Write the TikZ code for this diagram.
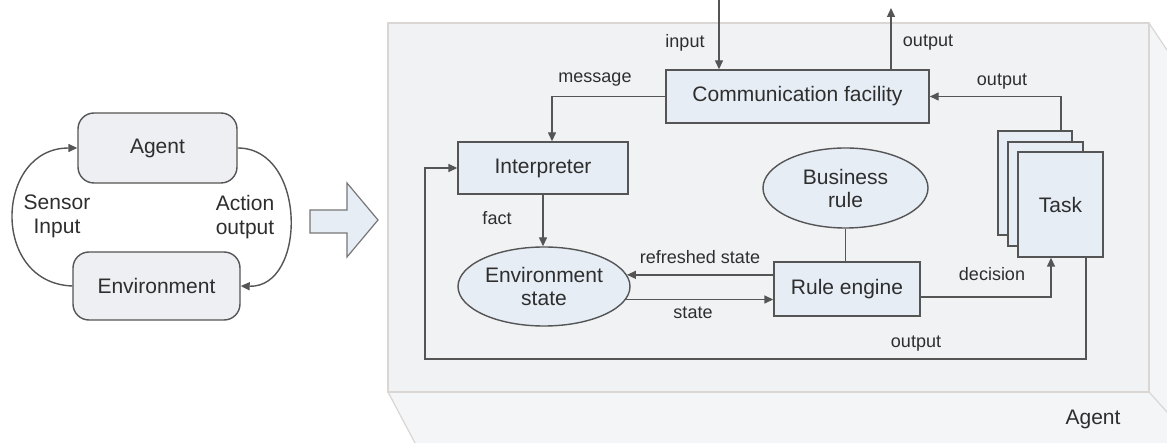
\documentclass[tikz,border=0pt]{standalone}
\usepackage{fontspec}
\setmainfont{Liberation Sans}
\usetikzlibrary{arrows.meta,shapes.geometric}

\definecolor{ink}{HTML}{2E2E2E}
\definecolor{wire}{HTML}{555555}
\definecolor{boxfill}{HTML}{E6EDF5}
\definecolor{roundfill}{HTML}{EDEFF2}
\definecolor{panelfill}{HTML}{F1F2F4}
\definecolor{panelside}{HTML}{F4F5F7}
\definecolor{paneledge}{HTML}{D9D6D3}

\tikzset{
  wirestyle/.style={draw=wire, line width=1.4pt},
  flow/.style={wirestyle, -{Triangle[length=9pt,width=8pt]}},
  plainbox/.style={draw=wire, line width=1.4pt, fill=boxfill, inner sep=0pt,
    text=ink, font=\fontsize{21}{24}\selectfont},
  roundbox/.style={plainbox, fill=roundfill, rounded corners=16pt},
  ovalbox/.style={plainbox, ellipse, align=center,
    font=\fontsize{21}{23}\selectfont},
  tag/.style={text=ink, font=\fontsize{18}{20}\selectfont, inner sep=0pt},
  bigtag/.style={text=ink, font=\fontsize{21}{24}\selectfont, inner sep=0pt, align=center},
}

\begin{document}
\begin{tikzpicture}[x=1pt, y=-1pt]
\useasboundingbox (0,0) rectangle (1167,443);
\fill[white] (0,0) rectangle (1167,443);

% ---------- simple agent/environment loop ----------
\node[roundbox, minimum width=159pt, minimum height=70pt] (agentL) at (157.5,148) {Agent};
\node[roundbox, minimum width=167pt, minimum height=68pt] (envL) at (156.5,286) {Environment};

\draw[flow] (envL.west) .. controls (-10,283) and (-5,148) .. (agentL.west);
\draw[flow] (agentL.east) .. controls (307,148) and (307,288) .. (envL.east);

\node[bigtag] (sensor) at (57,216) {Sensor\\Input};
\node[bigtag] (action) at (245,217) {Action\\output};

% hollow block arrow
\draw[draw=wire!80, line width=1.2pt, fill=boxfill, line join=miter]
  (310,210) -- (347,210) -- (347,183) -- (378,220) -- (347,257) -- (347,233) -- (310,233) -- cycle;

% ---------- agent panel (open box) ----------
\fill[panelside] (388,392) -- (1149,392) -- (1167,412) -- (1167,443) -- (415,443) -- cycle;
\fill[panelside] (1149,23) -- (1167,50) -- (1167,412) -- (1149,392) -- cycle;
\draw[paneledge, line width=1.2pt] (388,392) -- (415,443);
\draw[paneledge, line width=1.2pt] (1149,23) -- (1167,50);
\draw[paneledge, line width=1.2pt] (1149,392) -- (1167,412);
\draw[paneledge, line width=1.5pt, fill=panelfill] (388,23) rectangle (1149,392);
\node[bigtag] (panelname) at (1093,419) {Agent};

% ---------- components ----------
\node[plainbox, minimum width=263pt, minimum height=53pt] (comm) at (797.5,96.5) {Communication facility};
\node[plainbox, minimum width=170pt, minimum height=52pt] (interp) at (543,168) {Interpreter};
\node[ovalbox, minimum width=172pt, minimum height=79pt] (envS) at (544,286.5) {Environment\\state};
\node[ovalbox, minimum width=165pt, minimum height=80pt] (busR) at (845.5,188) {Business\\rule};
\node[plainbox, minimum width=146pt, minimum height=54pt] (rule) at (847,289) {Rule engine};

\node[plainbox, minimum width=74pt, minimum height=104pt] (t1) at (1035,183) {};
\node[plainbox, minimum width=75pt, minimum height=104pt] (t2) at (1045.5,194) {};
\node[plainbox, minimum width=85pt, minimum height=105pt] (t3) at (1060.5,204.5) {Task};

% ---------- reference points for connectors ----------
\coordinate (inTop) at (719,0);
\coordinate (outTop) at (891,8);
\coordinate (msgX) at (552,0);
\coordinate (decX) at (1051,0);
\coordinate (taskX) at (1061,0);
\coordinate (loopR) at (1086,359);
\coordinate (loopL) at (425,359);

% ---------- connectors ----------
\draw[flow] (inTop) -- (inTop |- comm.north);
\draw[flow] (outTop |- comm.north) -- (outTop);
\draw[flow] (comm.west) -| (msgX |- interp.north);
\draw[flow] (interp.south) -- (interp.south |- envS.north);
\draw[flow] (rule.west |- envS.8) -- (envS.8);
\draw[flow] (envS.-9) -- (rule.west |- envS.-9);
\draw[wirestyle] (busR.south) -- (busR.south |- rule.north);
\draw[flow] ([yshift=-8pt]rule.east) -| (decX |- t3.south);
\draw[flow] (taskX |- t1.north) |- (comm.east);
\draw[flow] (loopR |- t3.south) -- (loopR) -- (loopL) |- (interp.west);

% ---------- connector labels ----------
\node[tag] (lin) at (685,43) {input};
\node[tag] (lout) at (928,43) {output};
\node[tag] (ltask) at (1002,82) {output};
\node[tag] (lmsg) at (595,80) {message};
\node[tag] (lfact) at (497,218) {fact};
\node[tag] (lref) at (700,257) {refreshed state};
\node[tag] (lstate) at (693,313) {state};
\node[tag] (ldec) at (992,274) {decision};
\node[tag] (lloop) at (916,344) {output};
\end{tikzpicture}
\end{document}
